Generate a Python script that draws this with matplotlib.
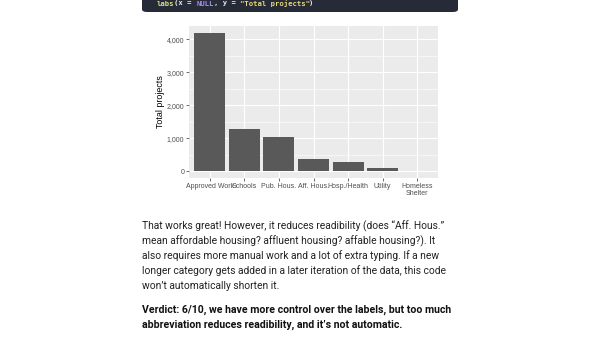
import matplotlib.pyplot as plt
from matplotlib.patches import FancyBboxPatch
from matplotlib.ticker import FuncFormatter, MultipleLocator

categories = ['Approved Work', 'Schools', 'Pub. Hous.', 'Aff. Hous.',
              'Hosp./Health', 'Utility', 'Homeless\nShelter']
totals = [4190, 1285, 1025, 380, 272, 103, 10]
y_ticks = [0, 1000, 2000, 3000, 4000]

paragraph = [
    "That works great! However, it reduces readibility (does \u201cAff. Hous.\u201d",
    "mean affordable housing? affluent housing? affable housing?). It",
    "also requires more manual work and a lot of extra typing. If a new",
    "longer category gets added in a later iteration of the data, this code",
    "won\u2019t automatically shorten it.",
]
verdict = [
    "Verdict: 6/10, we have more control over the labels, but too much",
    "abbreviation reduces readibility, and it\u2019s not automatic.",
]

W, H = 600, 338
fig = plt.figure(figsize=(W / 100, H / 100), dpi=100)
fig.patch.set_facecolor('white')
renderer = fig.canvas.get_renderer()


def fx(x):
    return x / W


def fy(y):
    return 1 - y / H


def fit(t, width_px):
    # shrink/grow a text so it spans the given pixel width
    w = t.get_window_extent(renderer).width
    t.set_fontsize(t.get_fontsize() * width_px / w)


# code block at the top, cut off by the page edge
box = FancyBboxPatch((fx(142), fy(12)), fx(316), 20 / H,
                     boxstyle='round,pad=0,rounding_size=0.008',
                     transform=fig.transFigure, facecolor='#272b38',
                     edgecolor='none')
fig.patches.append(box)
code_parts = [('labs', '#d7e27a'), ('(x = ', '#e8e8e8'), ('NULL', '#a98bf5'),
              (', y = ', '#e8e8e8'), ('"Total projects"', '#e3d97a'),
              (')', '#e8e8e8')]
code_size = 5.2
char_w = 0.602 * code_size * 100 / 72
cx = 157
for txt, col in code_parts:
    fig.text(fx(cx), fy(3.5), txt, color=col, fontsize=code_size,
             family='DejaVu Sans Mono', fontweight='bold',
             va='center', ha='left')
    cx += len(txt) * char_w

# ggplot-style bar chart
ax = fig.add_axes([fx(189), fy(178), fx(438) - fx(189), (178 - 26) / H])
ax.set_facecolor('#ebebeb')
ax.bar(range(len(categories)), totals, width=0.9, color='#595959', zorder=2)
ax.set_xlim(-0.6, len(categories) - 0.4)
ax.set_ylim(-0.05 * max(totals), 1.05 * max(totals))
ax.set_xticks(range(len(categories)))
ax.set_xticklabels(categories, family='Liberation Sans', linespacing=1.0)
ax.set_yticks(y_ticks)
ax.yaxis.set_major_formatter(FuncFormatter(lambda v, p: f'{int(v):,}'))
for lab in ax.get_yticklabels():
    lab.set_family('Liberation Sans')
ax.yaxis.set_minor_locator(MultipleLocator(500))
ax.grid(which='major', color='white', linewidth=0.8, zorder=0)
ax.grid(which='minor', axis='y', color='white', linewidth=0.4, zorder=0)
ax.set_axisbelow(True)
for s in ax.spines.values():
    s.set_visible(False)
ax.tick_params(which='major', length=2, width=0.5, color='#333333',
               labelsize=5.0, labelcolor='#4d4d4d', pad=1.5)
ax.tick_params(which='minor', length=0)
ax.set_ylabel('Total projects', fontsize=6.4, color='black',
              family='Liberation Sans', labelpad=1)

# article text
y = 226
for i, line in enumerate(paragraph):
    t = fig.text(fx(142), fy(y), line, fontsize=7.5, family='Roboto',
                 color='#222222', va='center', ha='left')
    if i == 0:
        fit(t, 301)
        body_size = t.get_fontsize()
    else:
        t.set_fontsize(body_size)
    y += 15
y = 310
for i, line in enumerate(verdict):
    t = fig.text(fx(142), fy(y), line, fontsize=7.5, family='Roboto',
                 fontweight='bold', color='#111111', va='center', ha='left')
    if i == 0:
        fit(t, 306)
        bold_size = t.get_fontsize()
    else:
        t.set_fontsize(bold_size)
    y += 15

fig.savefig('out.png', dpi=100)
